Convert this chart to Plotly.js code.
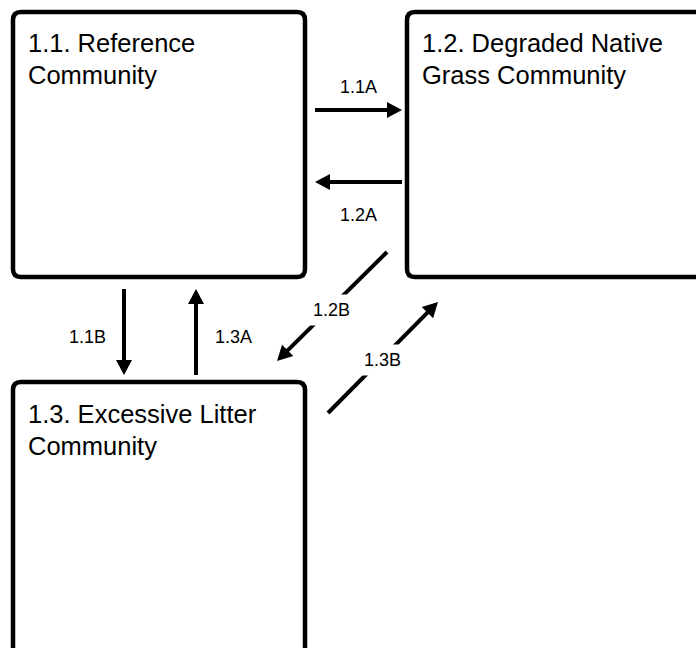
<!DOCTYPE html>
<html><head><meta charset="utf-8">
<script src="https://cdn.plot.ly/plotly-3.0.1.min.js"></script>
<style>html,body{margin:0;padding:0;background:#fff}</style>
</head><body><div id="chart" style="width:696px;height:648px"></div>
<script>
// ---- data (text content) ----
const stateTitleLine1 = ["1.1. Reference", "1.2. Degraded Native", "1.3. Excessive Litter"];
const stateTitleLine2 = ["Community", "Grass Community", "Community"];
const transitionLabels = ["1.1A", "1.2A", "1.1B", "1.3A", "1.2B", "1.3B"];

// ---- layout geometry (pixel space of the diagram) ----
const boxGeom = [
  {x0: 13, y0: 12, x1: 305, y1: 277, tx: 27, b1: 52, b2: 83.5},
  {x0: 407, y0: 12, x1: 730, y1: 277, tx: 421, b1: 52, b2: 83.5},
  {x0: 13, y0: 382, x1: 305, y1: 700, tx: 27, b1: 423, b2: 455}
];
const arrowGeom = [
  {tail: [315, 110], tip: [402, 110], lab: [358, 87], bg: false},
  {tail: [402, 182], tip: [315, 182], lab: [358, 215], bg: false},
  {tail: [124, 289], tip: [124, 375], lab: [87, 337], bg: false},
  {tail: [196, 375], tip: [196, 289], lab: [233, 337], bg: false},
  {tail: [387, 252], tip: [277, 361], lab: [331, 310], bg: true},
  {tail: [328, 413], tip: [438, 302], lab: [382, 360], bg: true}
];

const FONT = "Liberation Sans, Arial, Helvetica, sans-serif";
const BIG = 25.5, SMALL = 18;
const shapes = [];
const annotations = [];

function roundRect(g, r) {
  const {x0, y0, x1, y1} = g;
  return `M${x0 + r},${y0} L${x1 - r},${y0} Q${x1},${y0} ${x1},${y0 + r} L${x1},${y1 - r} Q${x1},${y1} ${x1 - r},${y1} L${x0 + r},${y1} Q${x0},${y1} ${x0},${y1 - r} L${x0},${y0 + r} Q${x0},${y0} ${x0 + r},${y0} Z`;
}

boxGeom.forEach((g, i) => {
  shapes.push({type: "path", xref: "x", yref: "y", path: roundRect(g, 8),
    line: {color: "#000", width: 4.5}, fillcolor: "rgba(0,0,0,0)"});
  [[stateTitleLine1[i], g.b1], [stateTitleLine2[i], g.b2]].forEach(([t, b]) => {
    annotations.push({xref: "x", yref: "y", x: g.tx, y: b - 0.35 * BIG, text: t,
      showarrow: false, xanchor: "left", yanchor: "middle", borderpad: 0,
      font: {family: FONT, size: BIG, color: "#000"}});
  });
});

const HEAD_L = 15, HEAD_W = 8;
arrowGeom.forEach((a, i) => {
  const dx = a.tip[0] - a.tail[0], dy = a.tip[1] - a.tail[1];
  const len = Math.hypot(dx, dy), ux = dx / len, uy = dy / len;
  const bx = a.tip[0] - ux * HEAD_L, by = a.tip[1] - uy * HEAD_L;
  const ex = a.tip[0] - ux * HEAD_L * 0.6, ey = a.tip[1] - uy * HEAD_L * 0.6;
  shapes.push({type: "line", xref: "x", yref: "y", x0: a.tail[0], y0: a.tail[1], x1: ex, y1: ey,
    line: {color: "#000", width: 4}});
  const px = -uy, py = ux;
  shapes.push({type: "path", xref: "x", yref: "y",
    path: `M${a.tip[0]},${a.tip[1]} L${bx + px * HEAD_W},${by + py * HEAD_W} L${bx - px * HEAD_W},${by - py * HEAD_W} Z`,
    line: {width: 0}, fillcolor: "#000"});
  annotations.push({xref: "x", yref: "y", x: a.lab[0], y: a.lab[1], text: transitionLabels[i],
    showarrow: false, xanchor: "center", yanchor: "middle", borderpad: a.bg ? 5 : 0,
    bgcolor: a.bg ? "#fff" : "rgba(0,0,0,0)",
    font: {family: FONT, size: SMALL, color: "#000"}});
});

const layout = {
  width: 696, height: 648,
  margin: {l: 0, r: 0, t: 0, b: 0},
  paper_bgcolor: "#fff", plot_bgcolor: "#fff",
  xaxis: {range: [0, 696], visible: false, fixedrange: true},
  yaxis: {range: [648, 0], visible: false, fixedrange: true},
  showlegend: false,
  shapes: shapes,
  annotations: annotations
};
Plotly.newPlot("chart", [{x: [], y: [], type: "scatter", mode: "markers", hoverinfo: "skip"}], layout,
  {displayModeBar: false, staticPlot: true});
</script></body></html>
